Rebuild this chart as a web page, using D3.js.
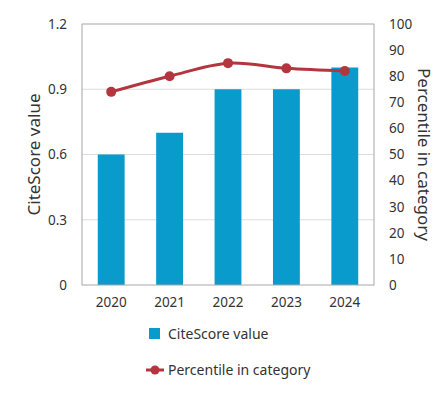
<!DOCTYPE html>
<meta charset="utf-8">
<script src="https://d3js.org/d3.v7.min.js"></script>
<style>
  body { margin: 0; background: #fff; }
  text { font-family: "Noto Sans", sans-serif; fill: #333; }
</style>
<div id="chart"></div>
<script>
// data
var years = ["2020", "2021", "2022", "2023", "2024"];
var citeScore = [0.6, 0.7, 0.9, 0.9, 1.0];
var percentile = [74, 80, 85, 83, 82];
var leftTicks = [0, 0.3, 0.6, 0.9, 1.2];
var rightTicks = [0, 10, 20, 30, 40, 50, 60, 70, 80, 90, 100];

var W = 447, H = 396;
var margin = {top: 24, right: 73, bottom: 111, left: 82},
    width = W - margin.left - margin.right,
    height = H - margin.top - margin.bottom;

var svg = d3.select("#chart").append("svg")
    .attr("width", W).attr("height", H);
var g = svg.append("g")
    .attr("transform", "translate(" + margin.left + "," + margin.top + ")");

var x = d3.scaleBand().domain(years).range([0, width]).paddingInner(0.54).paddingOuter(0.27);
var y = d3.scaleLinear().domain([0, 1.2]).range([height, 0]);
var y2 = d3.scaleLinear().domain([0, 100]).range([height, 0]);

// gridlines
g.append("g").selectAll("line")
  .data(leftTicks.slice(1, -1)).enter().append("line")
    .attr("x1", 0).attr("x2", width)
    .attr("y1", function(d) { return y(d); })
    .attr("y2", function(d) { return y(d); })
    .attr("stroke", "#dcdcdc");

// bars
g.append("g").selectAll("rect")
  .data(citeScore).enter().append("rect")
    .attr("x", function(d, i) { return x(years[i]); })
    .attr("width", x.bandwidth())
    .attr("y", function(d) { return y(d); })
    .attr("height", function(d) { return height - y(d); })
    .attr("fill", "#0a9bcd");

// frame
g.append("rect")
  .attr("width", width).attr("height", height)
  .attr("fill", "none").attr("stroke", "#a6a6a6");

// line
var line = d3.line()
  .x(function(d, i) { return x(years[i]) + x.bandwidth() / 2; })
  .y(function(d) { return y2(d); })
  .curve(d3.curveCatmullRom.alpha(0.5));
g.append("path").datum(percentile)
  .attr("d", line)
  .attr("fill", "none")
  .attr("stroke", "#b3363f")
  .attr("stroke-width", 3);
g.append("g").selectAll("circle")
  .data(percentile).enter().append("circle")
    .attr("cx", function(d, i) { return x(years[i]) + x.bandwidth() / 2; })
    .attr("cy", function(d) { return y2(d); })
    .attr("r", 5)
    .attr("fill", "#b3363f");

// axes
var left = g.append("g")
  .call(d3.axisLeft(y).tickValues(leftTicks).tickSize(0).tickPadding(15)
    .tickFormat(function(d) { return d === 0 ? "0" : d3.format(".1f")(d); }));
left.select(".domain").remove();
left.selectAll("text").style("font-size", "13.5px");

var right = g.append("g").attr("transform", "translate(" + width + ",0)")
  .call(d3.axisRight(y2).tickValues(rightTicks).tickSize(0).tickPadding(15));
right.select(".domain").remove();
right.selectAll("text").style("font-size", "13.5px");

var bottom = g.append("g").attr("transform", "translate(0," + height + ")")
  .call(d3.axisBottom(x).tickSize(0).tickPadding(12));
bottom.select(".domain").remove();
bottom.selectAll("text").style("font-size", "13.5px");

// axis titles
svg.append("text")
  .attr("transform", "translate(40," + (margin.top + height / 2) + ") rotate(-90)")
  .attr("text-anchor", "middle")
  .style("font-size", "17px")
  .text("CiteScore value");
svg.append("text")
  .attr("transform", "translate(418," + (margin.top + height / 2) + ") rotate(90)")
  .attr("text-anchor", "middle")
  .style("font-size", "17px")
  .text("Percentile in category");

// legend
svg.append("rect")
  .attr("x", 149).attr("y", 328).attr("width", 11).attr("height", 11)
  .attr("fill", "#0a9bcd");
svg.append("text").attr("x", 168).attr("y", 339)
  .style("font-size", "14px").text("CiteScore value");

svg.append("line")
  .attr("x1", 146).attr("x2", 164).attr("y1", 370).attr("y2", 370)
  .attr("stroke", "#b3363f").attr("stroke-width", 3);
svg.append("circle").attr("cx", 155).attr("cy", 370).attr("r", 4.5)
  .attr("fill", "#b3363f");
svg.append("text").attr("x", 168).attr("y", 375)
  .style("font-size", "14px").text("Percentile in category");
</script>
